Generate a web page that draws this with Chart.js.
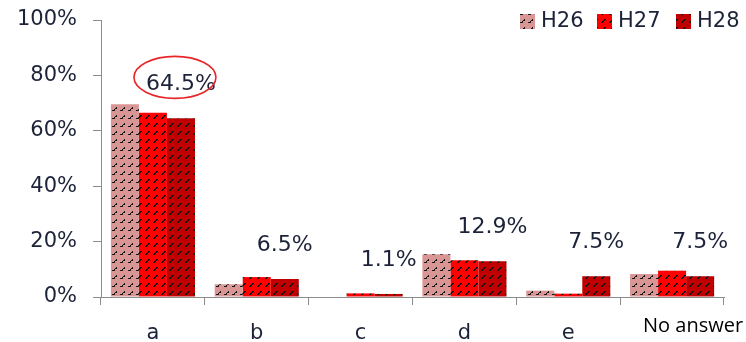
<!DOCTYPE html>
<html>
<head>
<meta charset="utf-8">
<script src="https://cdn.jsdelivr.net/npm/chart.js@4"></script>
<style>
html,body{margin:0;padding:0;background:#fff;}
#wrap{width:746px;height:342px;}
</style>
</head>
<body>
<div id="wrap"><canvas id="c" width="746" height="342"></canvas></div>
<script>
const categories = ['a', 'b', 'c', 'd', 'e', 'No answer'];
const seriesNames = ['H26', 'H27', 'H28'];
const h26 = [69.6, 4.6, 0, 15.4, 2.3, 8.3];
const h27 = [66.5, 7.2, 1.3, 13.3, 1.2, 9.5];
const h28 = [64.5, 6.5, 1.1, 12.9, 7.5, 7.5];
const yTicks = [0, 20, 40, 60, 80, 100];

const textColor = '#1c2238';
const axisColor = '#8c8c8c';

function makePattern(bg, kind) {
  const t = document.createElement('canvas');
  t.width = 8; t.height = 8;
  const g = t.getContext('2d');
  g.fillStyle = bg;
  g.fillRect(0, 0, 8, 8);
  g.fillStyle = '#141414';
  let px;
  if (kind === 'wave') {
    px = [[0,6],[1,6],[2,5],[3,4],[4,4],[2,6],[4,3]];
  } else {
    px = [[1,6],[2,6],[2,5],[3,5],[3,4],[4,4],[4,3],[5,3]];
  }
  px.forEach(p => g.fillRect(p[0], p[1], 1, 1));
  return g.createPattern(t, 'repeat');
}
const ctx0 = document.getElementById('c').getContext('2d');
const fills = [
  makePattern('#d99694', 'wave'),
  makePattern('#ff0000', 'dash'),
  makePattern('#c00000', 'dash')
];

const overlay = {
  id: 'overlay',
  afterDatasetsDraw(chart) {
    const ctx = chart.ctx;
    const meta = chart.getDatasetMeta(2);
    ctx.save();
    ctx.font = '22px "DejaVu Sans"';
    ctx.fillStyle = textColor;
    ctx.textAlign = 'center';
    ctx.textBaseline = 'middle';
    meta.data.forEach((bar, i) => {
      const lx = bar.x;
      const ly = bar.y - 34;
      ctx.fillText(h28[i].toFixed(1) + '%', lx, ly);
      if (i === 0) {
        ctx.save();
        ctx.strokeStyle = '#e8262a';
        ctx.lineWidth = 1.6;
        ctx.beginPath();
        ctx.ellipse(lx - 6, ly - 7, 41, 21, 0, 0, Math.PI * 2);
        ctx.stroke();
        ctx.restore();
      }
    });
    // legend
    const lx0 = [520, 597, 676];
    ctx.textAlign = 'left';
    ctx.font = '21px "DejaVu Sans"';
    seriesNames.forEach((n, i) => {
      ctx.fillStyle = fills[i];
      ctx.fillRect(lx0[i], 14, 15, 15);
      ctx.fillStyle = textColor;
      ctx.fillText(n, lx0[i] + 21, 22);
    });
    // "No answer" category label
    const xs = chart.scales.x;
    ctx.font = '20px "Open Sans"';
    ctx.fillStyle = '#000';
    ctx.textAlign = 'center';
    ctx.fillText(categories[5], xs.getPixelForValue(5) + 21, 326);
    ctx.restore();
  }
};

new Chart(ctx0, {
  type: 'bar',
  data: {
    labels: categories,
    datasets: [
      { label: seriesNames[0], data: h26, backgroundColor: fills[0] },
      { label: seriesNames[1], data: h27, backgroundColor: fills[1] },
      { label: seriesNames[2], data: h28, backgroundColor: fills[2] }
    ]
  },
  options: {
    responsive: false,
    animation: false,
    events: [],
    layout: { padding: { top: 20, right: 22, left: 0, bottom: 0 } },
    datasets: { bar: { categoryPercentage: 0.81, barPercentage: 1.0 } },
    plugins: { legend: { display: false }, tooltip: { enabled: false } },
    scales: {
      x: {
        grid: { offset: true, drawOnChartArea: false, drawTicks: true, tickLength: 8, color: axisColor },
        border: { color: axisColor, width: 1 },
        ticks: {
          font: { family: 'DejaVu Sans', size: 21 },
          color: textColor,
          padding: 16,
          callback: (v, i) => i === 5 ? '' : categories[i]
        },
        afterFit: s => { s.height = 45; s.paddingLeft = 0; s.paddingRight = 0; }
      },
      y: {
        min: 0, max: 100,
        afterBuildTicks: s => { s.ticks = yTicks.map(v => ({ value: v })); },
        grid: { drawOnChartArea: false, drawTicks: true, tickLength: 8, color: axisColor },
        border: { color: axisColor, width: 1 },
        ticks: {
          font: { family: 'DejaVu Sans', size: 21 },
          color: textColor,
          padding: 16,
          callback: v => v + '%'
        },
        afterFit: s => { s.width = 101; s.paddingTop = 0; s.paddingBottom = 0; }
      }
    }
  },
  plugins: [overlay]
});
</script>
</body>
</html>
